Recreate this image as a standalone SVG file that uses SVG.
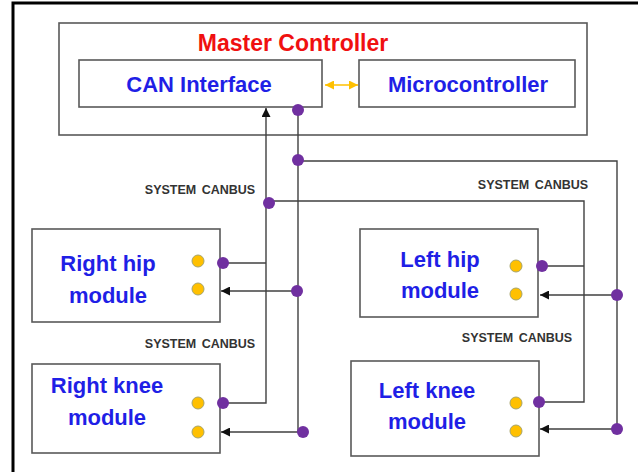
<svg xmlns="http://www.w3.org/2000/svg" width="638" height="472" viewBox="0 0 638 472">
<defs>
<style>
.box{fill:#fff;stroke:#595959;stroke-width:1.6}
.title{font-family:"Liberation Sans",Arial,sans-serif;font-weight:bold;font-size:22px;text-anchor:middle}
.blue{fill:#1f1fe6}
.red{fill:#f01010;font-size:23px}
.bus{font-family:"Liberation Sans",Arial,sans-serif;font-weight:bold;font-size:12.5px;fill:#333;text-anchor:middle;word-spacing:2px}
.ln{fill:none;stroke:#404040;stroke-width:1.4}
.pd{fill:#7030a0}
.yd{fill:#ffc000;stroke:#a6a46a;stroke-width:1}
</style>
<marker id="ah" viewBox="0 0 10 10" refX="10" refY="5" markerWidth="9" markerHeight="9" markerUnits="userSpaceOnUse" orient="auto">
<path d="M0,0 L10,5 L0,10 z" fill="#111"/>
</marker>
<marker id="ya" viewBox="0 0 10 10" refX="10" refY="5" markerWidth="9" markerHeight="9" markerUnits="userSpaceOnUse" orient="auto-start-reverse">
<path d="M0,0 L10,5 L0,10 z" fill="#ffc000"/>
</marker>
</defs>
<rect width="638" height="472" fill="#fff"/>
<path d="M13,472 V3 H638" fill="none" stroke="#000" stroke-width="3"/>

<g id="master">
<rect class="box" x="59" y="23" width="528" height="112"/>
<text class="title red" x="293" y="51">Master Controller</text>
</g>
<g id="can">
<rect class="box" x="79" y="60" width="243" height="47"/>
<text class="title blue" x="199" y="92">CAN Interface</text>
</g>
<g id="micro">
<rect class="box" x="359" y="60" width="216" height="47"/>
<text class="title blue" x="468" y="92">Microcontroller</text>
</g>
<g id="righthip">
<rect class="box" x="32" y="229" width="188" height="93"/>
<text class="title blue" x="108" y="271">Right hip</text>
<text class="title blue" x="108" y="303">module</text>
<circle class="yd" cx="198" cy="261" r="6"/>
<circle class="yd" cx="198" cy="289" r="6"/>
</g>
<g id="rightknee">
<rect class="box" x="32" y="364" width="188" height="89"/>
<text class="title blue" x="107" y="393">Right knee</text>
<text class="title blue" x="107" y="425">module</text>
<circle class="yd" cx="198" cy="403" r="6"/>
<circle class="yd" cx="198" cy="432" r="6"/>
</g>
<g id="lefthip">
<rect class="box" x="360" y="229" width="178" height="88"/>
<text class="title blue" x="440" y="267">Left hip</text>
<text class="title blue" x="440" y="298">module</text>
<circle class="yd" cx="516" cy="266" r="6"/>
<circle class="yd" cx="516" cy="294" r="6"/>
</g>
<g id="leftknee">
<rect class="box" x="351" y="361" width="188" height="95"/>
<text class="title blue" x="427" y="398">Left knee</text>
<text class="title blue" x="427" y="429">module</text>
<circle class="yd" cx="516" cy="403" r="6"/>
<circle class="yd" cx="516" cy="431" r="6"/>
</g>

<g id="connectors">
<line x1="325" y1="85" x2="358" y2="85" stroke="#ffc000" stroke-width="1.6" marker-start="url(#ya)" marker-end="url(#ya)"/>
<path class="ln" d="M223,403 H266 V108" marker-end="url(#ah)"/>
<path class="ln" d="M223,263 H266"/>
<path class="ln" d="M298,110 V432 H221" marker-end="url(#ah)"/>
<path class="ln" d="M298,291 H221" marker-end="url(#ah)"/>
<path class="ln" d="M269,201 H584 V402 H539"/>
<path class="ln" d="M542,266 H584"/>
<path class="ln" d="M298,161 H617 V429 H540" marker-end="url(#ah)"/>
<path class="ln" d="M617,295 H540" marker-end="url(#ah)"/>
<circle class="pd" cx="298" cy="110" r="6"/>
<circle class="pd" cx="298" cy="160" r="6"/>
<circle class="pd" cx="269" cy="203" r="6"/>
<circle class="pd" cx="223" cy="263" r="6"/>
<circle class="pd" cx="297" cy="291" r="6"/>
<circle class="pd" cx="223" cy="403" r="6"/>
<circle class="pd" cx="303" cy="432" r="6"/>
<circle class="pd" cx="542" cy="266" r="6"/>
<circle class="pd" cx="617" cy="295" r="6"/>
<circle class="pd" cx="539" cy="402" r="6"/>
<circle class="pd" cx="617" cy="429" r="6"/>
<text class="bus" x="200" y="194">SYSTEM CANBUS</text>
<text class="bus" x="533" y="189">SYSTEM CANBUS</text>
<text class="bus" x="200" y="348">SYSTEM CANBUS</text>
<text class="bus" x="517" y="342">SYSTEM CANBUS</text>
</g>
</svg>
